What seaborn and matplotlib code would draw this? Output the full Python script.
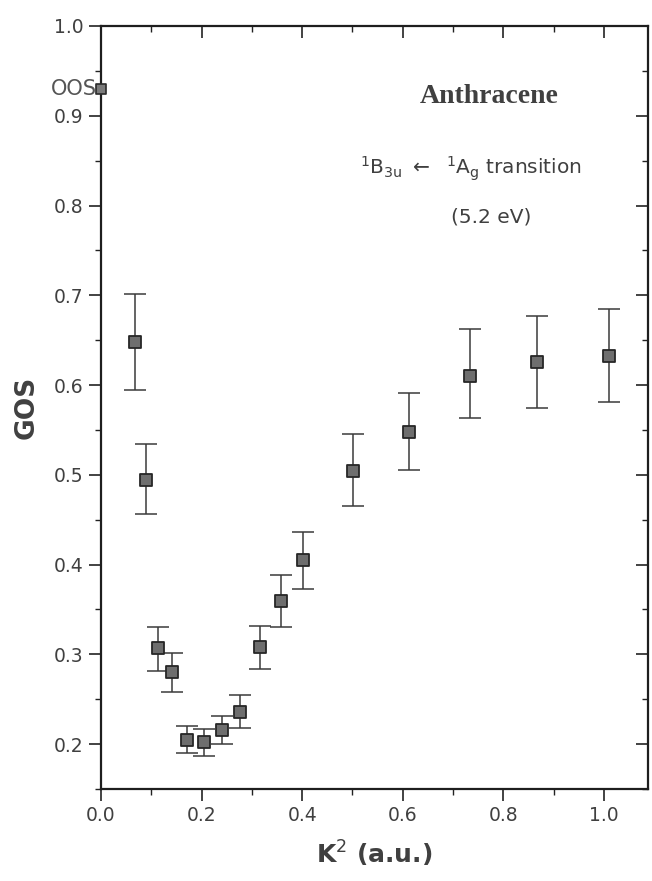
import matplotlib
matplotlib.use("Agg")
import matplotlib.pyplot as plt
import seaborn as sns
import numpy as np
import pandas as pd
from matplotlib.ticker import MultipleLocator

# ---- data ----
k2 = [0.068, 0.089, 0.113, 0.141, 0.171, 0.205, 0.241, 0.276, 0.316, 0.358, 0.402,
      0.501, 0.612, 0.734, 0.867, 1.010]
gos = [0.648, 0.494, 0.307, 0.280, 0.205, 0.202, 0.216, 0.236, 0.308, 0.359, 0.405,
       0.504, 0.548, 0.610, 0.626, 0.632]
err_hi = [0.701, 0.534, 0.331, 0.302, 0.220, 0.217, 0.231, 0.255, 0.332, 0.388, 0.436,
          0.545, 0.591, 0.663, 0.677, 0.685]
err_lo = [0.594, 0.456, 0.282, 0.258, 0.190, 0.187, 0.200, 0.218, 0.284, 0.330, 0.373,
          0.465, 0.505, 0.563, 0.575, 0.581]
oos_x = [0.0]
oos_y = [0.930]

x_ticks = [0.0, 0.2, 0.4, 0.6, 0.8, 1.0]
y_ticks = [0.2, 0.3, 0.4, 0.5, 0.6, 0.7, 0.8, 0.9, 1.0]

df = pd.DataFrame({"K2": k2, "GOS": gos})
yerr = np.array([np.array(gos) - np.array(err_lo), np.array(err_hi) - np.array(gos)])

sns.set_theme(style="ticks")
plt.rcParams["font.family"] = ["DejaVu Sans"]
plt.rcParams["mathtext.fontset"] = "dejavusans"

txt = "#404040"
fig = plt.figure(figsize=(6.52, 8.81), dpi=100)
ax = fig.add_axes([0.155, 0.1044, 0.839, 0.8661])

ax.errorbar(df["K2"], df["GOS"], yerr=yerr, fmt="none", ecolor="#3a3a3a",
            elinewidth=1.1, capsize=8, capthick=1.1, zorder=2)
sns.scatterplot(data=df, x="K2", y="GOS", marker="s", s=85, color="#6e6e6e",
                edgecolor="#262626", linewidth=1.3, ax=ax, zorder=3, legend=False)
sns.scatterplot(x=oos_x, y=oos_y, marker="s", s=60, color="#7a7a7a",
                edgecolor="#2a2a2a", linewidth=1.2, ax=ax, zorder=4, clip_on=False,
                legend=False)

ax.set_xlim(0.0, 1.088)
ax.set_ylim(0.15, 1.0)
ax.set_xticks(x_ticks)
ax.set_yticks(y_ticks)
ax.set_xticklabels([f"{v:.1f}" for v in x_ticks])
ax.set_yticklabels([f"{v:.1f}" for v in y_ticks])
ax.xaxis.set_minor_locator(MultipleLocator(0.1))
ax.yaxis.set_minor_locator(MultipleLocator(0.05))

ax.tick_params(axis="both", which="major", length=8.5, width=1.2, colors="#222222",
               labelsize=13.5, labelcolor=txt, pad=4)
ax.tick_params(axis="both", which="minor", length=4, width=1.0, colors="#222222")
ax.tick_params(axis="x", which="both", direction="out", top=True, bottom=True)
ax.tick_params(axis="y", which="both", direction="out", left=True, right=True)
# inward ticks on top and right
for t in ax.xaxis.get_major_ticks() + ax.xaxis.get_minor_ticks():
    t.tick2line.set_marker(3)  # TICKDOWN
for t in ax.yaxis.get_major_ticks() + ax.yaxis.get_minor_ticks():
    t.tick2line.set_marker(0)  # TICKLEFT
for s in ax.spines.values():
    s.set_linewidth(1.6)
    s.set_color("#1e1e1e")
    s.set_visible(True)

ax.set_xlabel(r"K$^\mathrm{2}$ (a.u.)", fontsize=18, fontweight="bold", color=txt, labelpad=10)
ax.set_ylabel("GOS", fontsize=19, fontweight="bold", color=txt, labelpad=10)

ax.text(0.771, 0.921, "Anthracene", fontsize=20, fontweight="bold",
        family=["Liberation Serif", "DejaVu Serif"], color=txt, ha="center", va="center")
ax.text(0.515, 0.841,
        r"$^\mathrm{1}\mathrm{B}_\mathrm{3u}$ $\leftarrow$  $^\mathrm{1}\mathrm{A}_\mathrm{g}$ transition",
        fontsize=14.5, color=txt, ha="left", va="center")
ax.text(0.775, 0.787, "(5.2 eV)", fontsize=14.5, color=txt, ha="center", va="center")
ax.text(-0.008, 0.930, "OOS", fontsize=15, color="#555555", ha="right", va="center")

fig.savefig("out.png", dpi=100, facecolor="white")
